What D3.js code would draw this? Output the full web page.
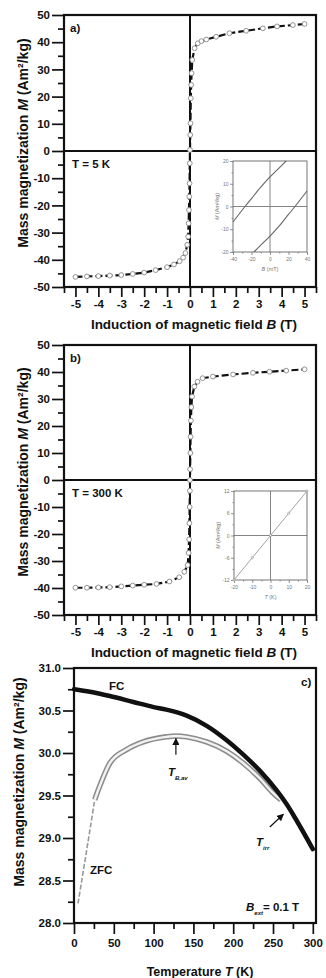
<!DOCTYPE html>
<html>
<head>
<meta charset="utf-8">
<style type="text/css">
    body {
        margin: 0;
        background: #fff;
    }

    svg {
        display: block;
        font-family: "Liberation Sans", Arial, sans-serif;
    }

    .axis path.domain {
        display: none;
    }

    .axis line {
        stroke: #111;
        stroke-width: 1.7;
    }

    .axis .tick text {
        font-weight: bold;
        font-size: 11.5px;
        fill: #111;
    }

    .inset .axis line {
        stroke: #777;
        stroke-width: 0.8;
    }

    .inset .axis .tick text {
        font-weight: normal;
        font-size: 5px;
        fill: #777;
    }

    .title {
        font-weight: bold;
        font-size: 13.5px;
        fill: #111;
    }

    .note {
        font-weight: bold;
        font-size: 11.5px;
        fill: #111;
    }

    .small {
        font-size: 5.5px;
        fill: #777;
    }
</style>
<title>Magnetization</title>
</head>
<body>
<svg id="graph"></svg>
<script src="https://cdn.jsdelivr.net/npm/d3@7"></script>
<script>
    // ---- data ----
    // panel a), T = 5 K
    var fieldA = [-5, -4.5, -4, -3.5, -3, -2.5, -2, -1.5, -1, -0.7, -0.45, -0.3, -0.2, -0.12, -0.08, -0.06, -0.045, -0.03, -0.02, -0.01,
        0, 0.01, 0.02, 0.035, 0.05, 0.07, 0.1, 0.2, 0.34, 0.5, 0.71, 1.14, 1.72, 2.45, 3.18, 3.8, 4.49, 5];
    var magA = [-46.3, -46.1, -46.0, -45.8, -45.6, -45.2, -44.7, -43.8, -42.7, -41.7, -40.5, -39.2, -37.5, -34.5, -31.5, -26.6, -21.7, -16.8, -11.9, -4.5,
        0.4, 5.9, 10.2, 19.4, 24.3, 28.6, 33.5, 37.8, 39.6, 40.4, 41.0, 42.0, 43.3, 44.2, 45.1, 45.8, 46.3, 46.7];

    // panel b), T = 300 K
    var fieldB = [-5, -4.5, -4, -3.5, -3, -2.5, -2, -1.46, -0.9, -0.47, -0.25, -0.1, -0.06, -0.04, -0.025, -0.015, -0.005,
        0, 0.005, 0.015, 0.025, 0.04, 0.06, 0.09, 0.19, 0.33, 0.55, 1.0, 1.88, 2.75, 3.47, 4.2, 5];
    var magB = [-39.9, -39.9, -39.8, -39.7, -39.4, -39.1, -38.8, -38.5, -37.6, -36.0, -34.0, -31.5, -27, -22, -16, -10, -4,
        0, 4, 10, 16, 22, 27, 30.9, 34.6, 36.4, 37.7, 38.3, 39.1, 39.7, 40.1, 40.5, 41.0];

    // inset a) hysteresis loop (mT, Am2/kg)
    var loopUpField = [-40, -27, -20, -10, 0, 10, 17.5];
    var loopUpMag = [-6.8, 0, 3.5, 8.5, 13, 17, 20];
    var loopDownField = [-17.5, -10, 0, 10, 20, 27, 40];
    var loopDownMag = [-20, -17, -13, -8.5, -3.5, 0, 6.8];

    // inset b) linear part
    var linField = [-20, -10, 0, 10, 20];
    var linMag = [-12, -6, 0, 6, 12];

    // panel c) FC / ZFC
    var tempFC = [0, 20, 45, 74.5, 100, 116, 141.5, 166.7, 191.8, 212.7, 233.6, 254.6, 267, 280, 300];
    var magFC = [30.75, 30.72, 30.67, 30.60, 30.54, 30.51, 30.44, 30.32, 30.15, 29.98, 29.79, 29.56, 29.40, 29.20, 28.87];
    var tempZFC = [5, 15, 26, 32.7, 45, 66, 87, 116, 128, 141.5, 166.7, 192, 212.7, 233.6, 250, 260];
    var magZFC = [28.23, 28.8, 29.45, 29.62, 29.88, 30.04, 30.13, 30.19, 30.2, 30.19, 30.13, 30.02, 29.88, 29.70, 29.53, 29.45];

    // tick values
    var fieldTicks = [-5, -4, -3, -2, -1, 0, 1, 2, 3, 4, 5];
    var fieldMinor = [-5.5, -4.5, -3.5, -2.5, -1.5, -0.5, 0.5, 1.5, 2.5, 3.5, 4.5, 5.5];
    var magTicks = [-50, -40, -30, -20, -10, 0, 10, 20, 30, 40, 50];
    var magMinor = [-45, -35, -25, -15, -5, 5, 15, 25, 35, 45];
    var tempTicks = [0, 50, 100, 150, 200, 250, 300];
    var tempMinor = [25, 75, 125, 175, 225, 275];
    var fcTicks = [28, 28.5, 29, 29.5, 30, 30.5, 31];
    var fcMinor = [28.25, 28.75, 29.25, 29.75, 30.25, 30.75];

    var svg = d3.select('#graph')
        .attr('width', 326)
        .attr('height', 978);

    function translation(x, y) {
        return 'translate(' + x + ',' + y + ')';
    }

    function zip(xs, ys) {
        return xs.map(function (v, i) { return { x: v, y: ys[i] }; });
    }

    // y title "Mass magnetization M (Am²/kg)"
    function yTitle(cx, cy) {
        var t = svg.append('text')
            .attr('class', 'title')
            .attr('text-anchor', 'middle')
            .attr('transform', translation(cx, cy) + ' rotate(-90)')
            .attr('dy', '0.35em')
            .style('font-size', '14px');
        t.append('tspan').text('Mass magnetization ');
        t.append('tspan').style('font-style', 'italic').text('M');
        t.append('tspan').text(' (Am\u00b2/kg)');
    }

    // small inset with its own axes
    function drawInset(box, xDom, yDom, xTicks, xMinor, yTicks, yMinor, xName) {
        var g = svg.append('g').attr('class', 'inset');
        var x = d3.scaleLinear().domain(xDom).range([box.left, box.right]);
        var y = d3.scaleLinear().domain(yDom).range([box.bottom, box.top]);

        g.append('g').attr('class', 'axis').attr('transform', translation(0, box.bottom))
            .call(d3.axisBottom(x).tickValues(xMinor).tickSize(1.5).tickFormat(''));
        g.append('g').attr('class', 'axis').attr('transform', translation(0, box.bottom))
            .call(d3.axisBottom(x).tickValues(xTicks).tickSize(3).tickPadding(2).tickFormat(d => String(d)));
        g.append('g').attr('class', 'axis').attr('transform', translation(box.left, 0))
            .call(d3.axisLeft(y).tickValues(yMinor).tickSize(1.5).tickFormat(''));
        g.append('g').attr('class', 'axis').attr('transform', translation(box.left, 0))
            .call(d3.axisLeft(y).tickValues(yTicks).tickSize(3).tickPadding(1.5).tickFormat(d => String(d)));

        g.append('line')
            .attr('x1', x(0)).attr('x2', x(0))
            .attr('y1', box.top).attr('y2', box.bottom)
            .attr('stroke', '#777').attr('stroke-width', 0.9);
        g.append('line')
            .attr('x1', box.left).attr('x2', box.right)
            .attr('y1', y(0)).attr('y2', y(0))
            .attr('stroke', '#777').attr('stroke-width', 0.9);
        g.append('rect')
            .attr('x', box.left).attr('y', box.top)
            .attr('width', box.right - box.left).attr('height', box.bottom - box.top)
            .attr('fill', 'none').attr('stroke', '#666').attr('stroke-width', 0.9);

        var xt = g.append('text').attr('class', 'small')
            .attr('text-anchor', 'middle')
            .attr('x', (box.left + box.right) / 2).attr('y', box.bottom + 19);
        xt.append('tspan').style('font-style', 'italic').text(xName[0]);
        xt.append('tspan').text(xName[1]);

        var yt = g.append('text').attr('class', 'small')
            .attr('text-anchor', 'middle')
            .attr('transform', translation(box.left - 16, (box.top + box.bottom) / 2) + ' rotate(-90)')
            .attr('dy', '0.35em');
        yt.append('tspan').style('font-style', 'italic').text('M');
        yt.append('tspan').text(' (Am\u00b2/kg)');

        return { g: g, x: x, y: y };
    }

    // hysteresis panels a) and b)
    function drawHysteresis(top, bottom, field, mag, tag, tempLabel) {
        var left = 64, right = 316;
        var x = d3.scaleLinear().domain([-5.5, 5.5]).range([left, right]);
        var y = d3.scaleLinear().domain([-50, 50]).range([bottom, top]);
        var g = svg.append('g');

        g.append('g').attr('class', 'axis').attr('transform', translation(0, bottom))
            .call(d3.axisBottom(x).tickValues(fieldMinor).tickSize(6).tickFormat(''));
        g.append('g').attr('class', 'axis').attr('transform', translation(0, bottom))
            .call(d3.axisBottom(x).tickValues(fieldTicks).tickSize(10).tickPadding(3).tickFormat(d => String(d)));
        g.append('g').attr('class', 'axis').attr('transform', translation(left, 0))
            .call(d3.axisLeft(y).tickValues(magMinor).tickSize(6).tickFormat(''));
        g.append('g').attr('class', 'axis').attr('transform', translation(left, 0))
            .call(d3.axisLeft(y).tickValues(magTicks).tickSize(12).tickPadding(2).tickFormat(d => String(d)));

        // zero lines
        g.append('line')
            .attr('x1', x(0)).attr('x2', x(0)).attr('y1', top).attr('y2', bottom)
            .attr('stroke', '#111').attr('stroke-width', 2);
        g.append('line')
            .attr('x1', left).attr('x2', right).attr('y1', y(0)).attr('y2', y(0))
            .attr('stroke', '#111').attr('stroke-width', 2);

        g.append('rect')
            .attr('x', left).attr('y', top)
            .attr('width', right - left).attr('height', bottom - top)
            .attr('fill', 'none').attr('stroke', '#111').attr('stroke-width', 2.2);

        var pts = zip(field, mag);
        g.append('path')
            .datum(pts)
            .attr('d', d3.line().x(d => x(d.x)).y(d => y(d.y)))
            .attr('fill', 'none')
            .attr('stroke', '#111')
            .attr('stroke-width', 2.2)
            .attr('stroke-dasharray', '7,3');

        g.selectAll('circle.pt')
            .data(pts)
            .enter().append('circle')
            .attr('class', 'pt')
            .attr('cx', d => x(d.x))
            .attr('cy', d => y(d.y))
            .attr('r', 2.4)
            .attr('fill', '#fff')
            .attr('stroke', '#888')
            .attr('stroke-width', 0.9);

        g.append('text').attr('class', 'note')
            .attr('x', 70).attr('y', top + 17).text(tag);
        g.append('text').attr('class', 'note')
            .attr('x', 72).attr('y', y(0) + 17).text(tempLabel);

        var xt = svg.append('text').attr('class', 'title')
            .attr('text-anchor', 'middle')
            .attr('x', 194).attr('y', bottom + 42);
        xt.append('tspan').text('Induction of magnetic field ');
        xt.append('tspan').style('font-style', 'italic').text('B');
        xt.append('tspan').text(' (T)');

        yTitle(23, (top + bottom) / 2 - 8);
    }

    drawHysteresis(15, 287, fieldA, magA, 'a)', 'T = 5 K');
    drawHysteresis(345, 615, fieldB, magB, 'b)', 'T = 300 K');

    // inset a)
    var insA = drawInset({ left: 233, right: 307, top: 161, bottom: 252 },
        [-40, 40], [-20, 20], [-40, -20, 0, 20, 40], [-30, -10, 10, 30],
        [-20, -10, 0, 10, 20], [-15, -5, 5, 15], ['B', ' (mT)']);
    var insLine = d3.line().curve(d3.curveMonotoneX).x(d => insA.x(d.x)).y(d => insA.y(d.y));
    [zip(loopUpField, loopUpMag), zip(loopDownField, loopDownMag)].forEach(function (branch) {
        insA.g.append('path')
            .datum(branch)
            .attr('d', insLine)
            .attr('fill', 'none')
            .attr('stroke', '#666')
            .attr('stroke-width', 1.1);
    });

    // inset b)
    var insB = drawInset({ left: 234, right: 307, top: 491, bottom: 580 },
        [-20, 20], [-12, 12], [-20, -10, 0, 10, 20], [-15, -5, 5, 15],
        [-12, -6, 0, 6, 12], [-9, -3, 3, 9], ['T', ' (K)']);
    var linPts = zip(linField, linMag);
    insB.g.append('path')
        .datum(linPts)
        .attr('d', d3.line().x(d => insB.x(d.x)).y(d => insB.y(d.y)))
        .attr('fill', 'none')
        .attr('stroke', '#999')
        .attr('stroke-width', 0.9);
    insB.g.selectAll('circle.lin')
        .data(linPts)
        .enter().append('circle')
        .attr('class', 'lin')
        .attr('cx', d => insB.x(d.x))
        .attr('cy', d => insB.y(d.y))
        .attr('r', 1.1)
        .attr('fill', '#fff')
        .attr('stroke', '#888')
        .attr('stroke-width', 0.6);

    // ---- panel c) ----
    var cLeft = 74, cRight = 316, cTop = 668, cBottom = 923;
    var xT = d3.scaleLinear().domain([0, 304]).range([cLeft, cRight]);
    var yM = d3.scaleLinear().domain([28, 31]).range([cBottom, cTop]);
    var gc = svg.append('g');

    gc.append('g').attr('class', 'axis').attr('transform', translation(0, cBottom))
        .call(d3.axisBottom(xT).tickValues(tempMinor).tickSize(6).tickFormat(''));
    gc.append('g').attr('class', 'axis').attr('transform', translation(0, cBottom))
        .call(d3.axisBottom(xT).tickValues(tempTicks).tickSize(11).tickPadding(5).tickFormat(d => String(d)));
    gc.append('g').attr('class', 'axis').attr('transform', translation(cLeft, 0))
        .call(d3.axisLeft(yM).tickValues(fcMinor).tickSize(6).tickFormat(''));
    gc.append('g').attr('class', 'axis').attr('transform', translation(cLeft, 0))
        .call(d3.axisLeft(yM).tickValues(fcTicks).tickSize(11).tickPadding(2).tickFormat(d3.format('.1f')));

    gc.append('rect')
        .attr('x', cLeft).attr('y', cTop)
        .attr('width', cRight - cLeft).attr('height', cBottom - cTop)
        .attr('fill', 'none').attr('stroke', '#111').attr('stroke-width', 2.2);

    var tLine = d3.line().curve(d3.curveMonotoneX).x(d => xT(d.x)).y(d => yM(d.y));
    var zfcPts = zip(tempZFC, magZFC);
    var zfcLow = zfcPts.filter(d => d.x <= 26);
    var zfcHigh = zfcPts.filter(d => d.x >= 26);
    // ZFC: sparse dashed start, then a hollow grey band of open circles
    gc.append('path').datum(zfcLow).attr('d', d3.line().x(d => xT(d.x)).y(d => yM(d.y)))
        .attr('fill', 'none').attr('stroke', '#999').attr('stroke-width', 1.6)
        .attr('stroke-dasharray', '5,2');
    gc.append('path').datum(zfcHigh).attr('d', tLine)
        .attr('fill', 'none').attr('stroke', '#8c8c8c').attr('stroke-width', 5.5);
    gc.append('path').datum(zfcHigh).attr('d', tLine)
        .attr('fill', 'none').attr('stroke', '#f2f2f2').attr('stroke-width', 2.4);
    // FC: thick black
    gc.append('path').datum(zip(tempFC, magFC)).attr('d', tLine)
        .attr('fill', 'none').attr('stroke', '#111').attr('stroke-width', 4.5)
        .attr('stroke-linecap', 'round');

    // arrows
    svg.append('defs').append('marker')
        .attr('id', 'head')
        .attr('viewBox', '0 0 10 10')
        .attr('refX', 9).attr('refY', 5)
        .attr('markerWidth', 6).attr('markerHeight', 6)
        .attr('orient', 'auto')
        .append('path').attr('d', 'M0,0L10,5L0,10z').attr('fill', '#111');

    gc.append('line')
        .attr('x1', xT(128)).attr('y1', yM(29.98))
        .attr('x2', xT(128)).attr('y2', yM(30.17))
        .attr('stroke', '#111').attr('stroke-width', 1.2)
        .attr('marker-end', 'url(#head)');
    gc.append('line')
        .attr('x1', xT(246)).attr('y1', yM(29.13))
        .attr('x2', xT(263)).attr('y2', yM(29.28))
        .attr('stroke', '#111').attr('stroke-width', 1.2)
        .attr('marker-end', 'url(#head)');

    var tb = gc.append('text').attr('class', 'note').attr('x', 168).attr('y', 776);
    tb.append('tspan').style('font-style', 'italic').text('T');
    tb.append('tspan').attr('dy', 4).style('font-size', '6px').style('font-style', 'italic').text('B,av');

    var ti = gc.append('text').attr('class', 'note').attr('x', 256).attr('y', 846);
    ti.append('tspan').style('font-style', 'italic').text('T');
    ti.append('tspan').attr('dy', 4).style('font-size', '6px').style('font-style', 'italic').text('irr');

    gc.append('text').attr('class', 'note').attr('x', 109).attr('y', 690).text('FC');
    gc.append('text').attr('class', 'note').attr('x', 90).attr('y', 874).text('ZFC');
    gc.append('text').attr('class', 'note').attr('x', 301).attr('y', 686).text('c)');

    var be = gc.append('text').attr('class', 'note').attr('x', 246).attr('y', 911);
    be.append('tspan').style('font-style', 'italic').text('B');
    be.append('tspan').attr('dy', 4).style('font-size', '6px').style('font-style', 'italic').text('ext');
    be.append('tspan').attr('dy', -4).text('= 0.1 T');

    var xtc = svg.append('text').attr('class', 'title')
        .attr('text-anchor', 'middle')
        .attr('x', 200).attr('y', 976)
        .style('font-size', '12.5px');
    xtc.append('tspan').text('Temperature ');
    xtc.append('tspan').style('font-style', 'italic').text('T');
    xtc.append('tspan').text(' (K)');

    yTitle(19, 782);
</script>
</body>
</html>
